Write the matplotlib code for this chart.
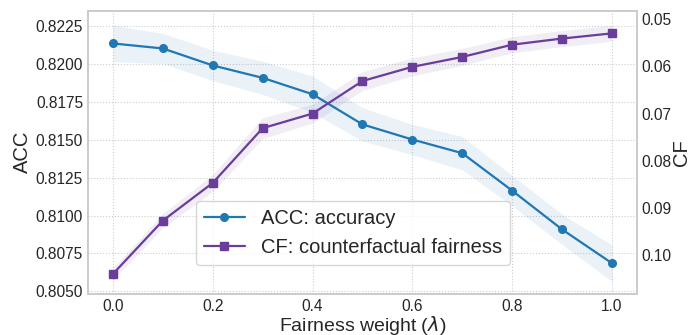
import numpy as np
import matplotlib
matplotlib.use("Agg")
import matplotlib.pyplot as plt
import seaborn as sns

# fairness weight sweep
lam = [0.0, 0.1, 0.2, 0.3, 0.4, 0.5, 0.6, 0.7, 0.8, 0.9, 1.0]

# accuracy (mean / std)
acc_mean = [0.82136, 0.82103, 0.81991, 0.81909, 0.81801, 0.81602,
            0.81502, 0.81412, 0.81165, 0.80909, 0.80686]
acc_std = [0.0012, 0.0010, 0.0010, 0.0011, 0.0012, 0.0011,
           0.0010, 0.0011, 0.0010, 0.0010, 0.0012]

# counterfactual fairness (mean / std)
cf_mean = [0.1040, 0.0927, 0.0847, 0.0731, 0.0700, 0.0631,
           0.0601, 0.0580, 0.0554, 0.0541, 0.0530]
cf_std = [0.0013, 0.0015, 0.0018, 0.0022, 0.0020, 0.0020,
          0.0019, 0.0018, 0.0017, 0.0017, 0.0017]

acc_color = '#1f77b4'
cf_color = '#6a3d9a'

sns.set_style('whitegrid', {'grid.linestyle': ':', 'axes.edgecolor': '#cccccc'})
plt.rcParams['font.family'] = ['Liberation Sans', 'DejaVu Sans']

fig = plt.figure(figsize=(6.9, 3.35), dpi=100)
ax = fig.add_axes([0.1275, 0.123, 0.7955, 0.845])
ax2 = ax.twinx()

x = np.array(lam)
am, asd = np.array(acc_mean), np.array(acc_std)
cm, csd = np.array(cf_mean), np.array(cf_std)

l1, = ax.plot(x, am, '-o', color=acc_color, lw=1.6, ms=5.5, label='ACC: accuracy')
ax.fill_between(x, am - asd, am + asd, color=acc_color, alpha=0.09, lw=0)

l2, = ax2.plot(x, cm, '-s', color=cf_color, lw=1.6, ms=5.5, label='CF: counterfactual fairness')
ax2.fill_between(x, cm - csd, cm + csd, color=cf_color, alpha=0.09, lw=0)

ax.set_xlim(-0.05, 1.05)
ax.set_ylim(0.80484, 0.82352)
ax.set_yticks([0.8050, 0.8075, 0.8100, 0.8125, 0.8150, 0.8175, 0.8200, 0.8225])
ax.set_yticklabels([f'{v:.4f}' for v in ax.get_yticks()])
ax.set_xticks([0.0, 0.2, 0.4, 0.6, 0.8, 1.0])

ax2.set_ylim(0.1082, 0.0482)
ax2.set_yticks([0.05, 0.06, 0.07, 0.08, 0.09, 0.10])
ax2.set_yticklabels([f'{v:.2f}' for v in ax2.get_yticks()])
ax2.grid(False)

for a in (ax, ax2):
    a.tick_params(labelsize=11.2, colors='#262626', length=0, pad=3.5)
    for s in a.spines.values():
        s.set_color('#cccccc')
        s.set_linewidth(1.25)

ax.set_xlabel(r'Fairness weight ($\lambda$)', fontsize=14, color='#262626', labelpad=0)
ax.set_ylabel('ACC', fontsize=14.5, color='#262626', labelpad=3)
ax2.set_ylabel('CF', fontsize=14.5, color='#262626', labelpad=0)

ax2.legend(handles=[l1, l2], loc='lower center', bbox_to_anchor=(0.483, 0.1),
           borderaxespad=0, fontsize=14.5, frameon=True)

fig.savefig('out.png', dpi=100)
